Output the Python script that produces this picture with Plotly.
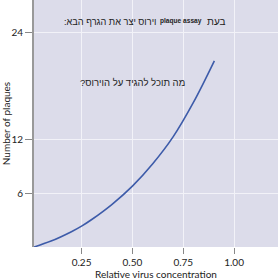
import plotly.graph_objects as go

# Data
conc = [0.016, 0.1, 0.2, 0.25, 0.3, 0.4, 0.5, 0.6, 0.7, 0.8, 0.903]
plaques = [0.0, 0.66, 1.71, 2.33, 3.07, 4.77, 6.8, 9.3, 12.3, 16.15, 20.8]
x_ticks = [0.25, 0.50, 0.75, 1.00]
x_tick_labels = ["0.25", "0.50", "0.75", "1.00"]
y_ticks = [6, 12, 24]
y_tick_labels = ["6", "12", "24"]

fig = go.Figure()
fig.add_trace(go.Scatter(x=conc, y=plaques, mode="lines", line_shape="spline",
                         line=dict(color="#3d5ba9", width=1.6), hoverinfo="skip"))

heb_font = "Liberation Sans, Arial, sans-serif"
anns = [
    dict(x=0.746, y=0.911, text="בעת", size=10),
    dict(x=0.603, y=0.913, text="<b>plaque assay</b>", size=6.6),
    dict(x=0.310, y=0.911, text=":וירוס יצר את הגרף הבא", size=9.2),
    dict(x=0.403, y=0.668, text="?מה תוכל להגיד על הוירוס", size=9.5),
]
for a in anns:
    fig.add_annotation(x=a["x"], y=a["y"], xref="paper", yref="paper", text=a["text"],
                       showarrow=False, xanchor="center", yanchor="middle",
                       font=dict(family=heb_font, size=a["size"], color="#222"))

axis_font = dict(family="Lato, Open Sans, sans-serif", size=10, color="#222")
fig.update_layout(
    width=278, height=280,
    margin=dict(l=30, r=0, t=0, b=33),
    paper_bgcolor="white", plot_bgcolor="#dcdcea",
    showlegend=False,
    font=axis_font,
    xaxis=dict(range=[0.016, 1.216], tickvals=x_ticks, ticktext=x_tick_labels,
               showgrid=True, gridcolor="#f2f2f8", gridwidth=1.2, zeroline=False,
               ticks="outside", ticklen=6, tickcolor="#888", showline=False,
               title=dict(text="Relative virus concentration", standoff=2, font=axis_font),
               tickfont=axis_font),
    yaxis=dict(range=[0, 27.6], tickvals=y_ticks, ticktext=y_tick_labels,
               showgrid=True, gridcolor="#f2f2f8", gridwidth=1.2, zeroline=False,
               ticks="outside", ticklen=7, tickcolor="#888", showline=True,
               linecolor="#999", linewidth=2,
               title=dict(text="Number of plaques", standoff=4, font=axis_font),
               tickfont=axis_font),
)

fig.write_html("out.html")
